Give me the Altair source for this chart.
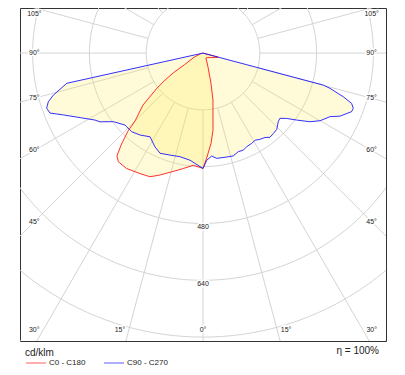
import altair as alt
import numpy as np
import pandas as pd

# ---- photometric data (gamma in degrees, luminous intensity in cd/klm) ----
# C0 - C180 plane (red): C180 drawn on the left, C0 on the right
c180_gamma = [0, 4.9, 9.7, 14.8, 19.4, 23.2, 27.6, 33.5, 37.9, 39.9, 41.7, 43.9, 45, 49.1, 52.7, 54.6, 56.3, 58, 65, 75, 90]
c180_cd = [325, 317, 330, 346, 364, 379, 383, 390, 388, 378, 347, 305, 271, 224, 163, 131, 101, 61, 28, 8, 0]
c0_gamma = [0, 2.2, 5.1, 7.4, 8.9, 12, 14.9, 19.7, 31, 45, 60, 70, 75, 90]
c0_cd = [325, 293, 255, 219, 182, 135, 87, 42, 16, 18, 25, 37, 44, 0]
# C90 - C270 plane (blue): C270 drawn on the left, C90 on the right
c270_gamma = [0, 6.9, 12.5, 17.9, 23.2, 27.1, 32.3, 37.5, 42.2, 47.3, 52.6, 56.3, 58.2, 62.3, 66.1, 68.6, 70.6, 72.5, 74.3, 77.5, 90]
c270_cd = [325, 304, 299, 302, 307, 297, 279, 291, 299, 299, 318, 349, 358, 391, 430, 463, 467, 457, 438, 393, 0]
c90_gamma = [0, 2, 4.8, 7.4, 11.9, 16.4, 19.7, 22.6, 25, 28.3, 30.9, 33.4, 36.3, 38.5, 41.2, 44, 47.6, 49.7, 52, 54.4, 57.3, 60, 63.4, 65.3, 68.5, 69.8, 71.3, 72.7, 74.5, 75.1, 90]
c90_cd = [325, 302, 291, 299, 300, 302, 295, 296, 291, 289, 286, 291, 295, 303, 301, 299, 287, 284, 299, 324, 358, 381, 400, 425, 450, 451, 442, 414, 371, 351, 0]

series_names = ["C0 - C180", "C90 - C270"]
series_colors = ["#ff1a1a", "#1a1aff"]

ring_values = [160, 320, 480, 640, 800, 960]
ring_label_values = [480, 640]
spoke_angles = list(range(0, 360, 15))
side_label_angles = [105, 90, 75, 60, 45]
bottom_label_angles = [30, 15, 0]
efficiency_text = "η = 100%"
unit_text = "cd/klm"

# ---- build tables ----
rows = []
for name, lg, lc, rg, rc in [
    (series_names[0], c180_gamma, c180_cd, c0_gamma, c0_cd),
    (series_names[1], c270_gamma, c270_cd, c90_gamma, c90_cd),
]:
    idx = 0
    for g, c in reversed(list(zip(lg, lc))):
        rows.append({"series": name, "idx": idx, "gamma": g, "cd": c, "side": -1})
        idx += 1
    for g, c in zip(rg, rc):
        rows.append({"series": name, "idx": idx, "gamma": g, "cd": c, "side": 1})
        idx += 1
curves = pd.DataFrame(rows)

deg = np.pi / 180
ring_rows = []
for r in ring_values:
    for k in range(0, 361, 2):
        ring_rows.append({"r": r, "k": k, "x": r * np.sin(k * deg), "y": r * np.cos(k * deg)})
rings = pd.DataFrame(ring_rows)

spoke_rows = []
for a in spoke_angles:
    for j, r in enumerate([160, 1500]):
        spoke_rows.append({"a": a, "j": j, "x": r * np.sin(a * deg), "y": -r * np.cos(a * deg)})
spokes = pd.DataFrame(spoke_rows)

lab_rows = []
H = 475.0
for a in side_label_angles:
    yv = min(-H * np.cos(a * deg) / np.sin(a * deg), 110.0)
    for s in (-1, 1):
        lab_rows.append({"t": f"{a}°", "x": s * H, "y": yv})
for a in bottom_label_angles:
    if a == 0:
        lab_rows.append({"t": f"{a}°", "x": 0.0, "y": -780.0})
    else:
        for s in (-1, 1):
            lab_rows.append({"t": f"{a}°", "x": s * (780 * np.tan(a * deg) + 25), "y": -780.0})
for v in ring_label_values:
    lab_rows.append({"t": str(v), "x": 0.0, "y": -v - 11.0})
labels = pd.DataFrame(lab_rows)

FONT = "Liberation Sans"
xs = alt.Scale(domain=[-515.5, 515.5], nice=False, zero=False)
ys = alt.Scale(domain=[-811, 127], nice=False, zero=False)


def X(f="x"):
    return alt.X(f"{f}:Q", scale=xs, axis=None)


def Y(f="y"):
    return alt.Y(f"{f}:Q", scale=ys, axis=None)


ring_layer = alt.Chart(rings).mark_line(color="#d4d4d4", strokeWidth=1, clip=True).encode(
    x=X(), y=Y(), detail="r:N", order="k:Q"
)
spoke_layer = alt.Chart(spokes).mark_line(color="#d4d4d4", strokeWidth=1, clip=True).encode(
    x=X(), y=Y(), detail="a:N", order="j:Q"
)

curve_base = alt.Chart(curves).transform_calculate(
    px="datum.side * datum.cd * sin(datum.gamma * PI / 180)",
    py="-datum.cd * cos(datum.gamma * PI / 180)",
)
fill_layer = curve_base.mark_line(
    fill="#ffe94d", fillOpacity=0.22, strokeOpacity=0, interpolate="linear-closed"
).encode(x=X("px"), y=Y("py"), detail="series:N", order="idx:Q")

line_layer = curve_base.mark_line(strokeWidth=0.9).encode(
    x=X("px"),
    y=Y("py"),
    order="idx:Q",
    color=alt.Color(
        "series:N",
        scale=alt.Scale(domain=series_names, range=series_colors),
        legend=alt.Legend(
            orient="none",
            legendX=5,
            legendY=340,
            direction="horizontal",
            title=unit_text,
            titleFont=FONT,
            titleFontSize=10,
            titleFontWeight="normal",
            titleColor="#222",
            titlePadding=-6,
            labelFont=FONT,
            labelFontSize=8,
            labelColor="#222",
            labelOffset=2,
            symbolType="stroke",
            symbolSize=400,
            symbolStrokeWidth=2,
            symbolOpacity=0.35,
            columnPadding=14,
            padding=0,
        ),
    ),
)

halo_layer = alt.Chart(labels).mark_text(
    font=FONT, fontSize=7, stroke="white", strokeWidth=3, baseline="middle", align="center"
).encode(x=X(), y=Y(), text="t:N")
label_layer = alt.Chart(labels).mark_text(
    font=FONT, fontSize=7, color="#222", baseline="middle", align="center"
).encode(x=X(), y=Y(), text="t:N")

eta_layer = alt.Chart(pd.DataFrame({"t": [efficiency_text]})).mark_text(
    font=FONT, fontSize=10, color="#222", align="right", baseline="middle"
).encode(x=alt.value(359), y=alt.value(343), text="t:N")

chart = (
    alt.layer(ring_layer, spoke_layer, fill_layer, line_layer, halo_layer, label_layer, eta_layer)
    .properties(
        width=366,
        height=333,
        autosize="none",
        padding={"left": 12, "top": 0, "right": 5, "bottom": 26},
        background="white",
    )
    .configure_view(stroke="#333333", strokeWidth=1)
)

chart.save("out.html", embed_options={"renderer": "svg", "actions": False})
